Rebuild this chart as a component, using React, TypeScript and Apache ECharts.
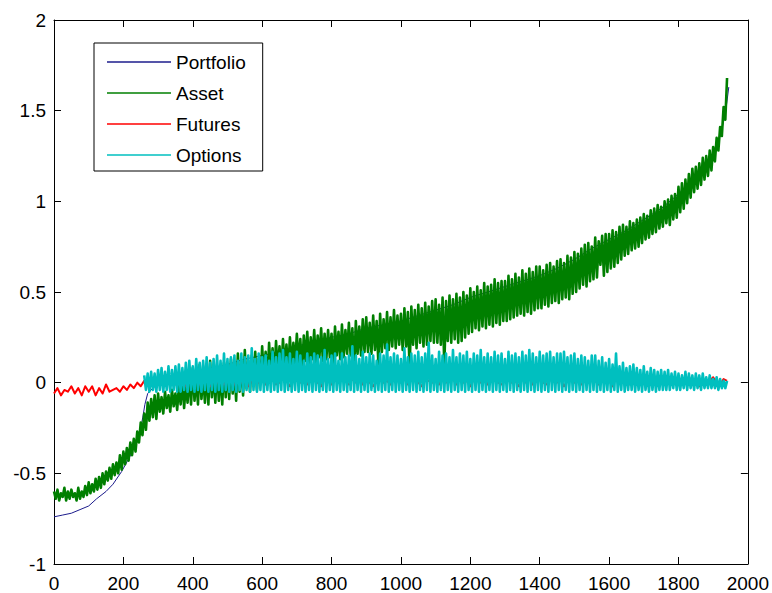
import React, { useEffect, useRef } from "react";
import * as echarts from "echarts";

// ---- data ----
const seriesNames = ["Portfolio", "Asset", "Futures", "Options"];
const seriesColors = ["#1c1c8c", "#007f00", "#ff0000", "#00bfbf"];

const xMin = 0;
const xMax = 2000;
const xInterval = 200;
const yMin = -1;
const yMax = 2;
const yInterval = 0.5;

// Portfolio: smooth-ish curve, explicit x positions
const portfolioX = [
  0, 25, 50, 75, 100, 123, 150, 170, 195, 218, 235, 247, 256, 262, 270, 285, 300, 350, 400, 450,
  500, 550, 600, 650, 700, 750, 800, 850, 900, 950, 1000, 1050, 1100, 1150, 1200, 1250, 1300,
  1350, 1400, 1450, 1500, 1550, 1600, 1650, 1700, 1750, 1800, 1850, 1880, 1900, 1920, 1935, 1945,
];
const portfolioY = [
  -0.74, -0.73, -0.72, -0.7, -0.68, -0.64, -0.6, -0.56, -0.49, -0.41, -0.34, -0.28, -0.19, -0.12,
  -0.06, -0.03, -0.01, 0.02, 0.05, 0.08, 0.1, 0.13, 0.15, 0.17, 0.2, 0.23, 0.25, 0.27, 0.3, 0.32,
  0.34, 0.37, 0.4, 0.43, 0.47, 0.5, 0.53, 0.56, 0.59, 0.63, 0.68, 0.74, 0.79, 0.84, 0.9, 0.96,
  1.04, 1.13, 1.2, 1.26, 1.36, 1.48, 1.63,
];

// Asset: x = ASSET_STEP * index, from 0 to 1940
const ASSET_STEP = 5;
const assetY = [
  -0.6, -0.64, -0.59, -0.65, -0.61, -0.63, -0.58, -0.65, -0.6, -0.64, -0.59, -0.63, -0.61, -0.65, -0.58, -0.64, -0.6, -0.63, -0.57, -0.62,
  -0.55, -0.61, -0.56, -0.6, -0.53, -0.59, -0.52, -0.58, -0.5, -0.56, -0.49, -0.54, -0.47, -0.53, -0.45, -0.51, -0.44, -0.5, -0.4, -0.48,
  -0.38, -0.45, -0.36, -0.43, -0.33, -0.4, -0.31, -0.38, -0.27, -0.33, -0.22, -0.29, -0.17, -0.26, -0.11, -0.21, -0.09, -0.19, -0.07, -0.2,
  -0.06, -0.16, -0.08, -0.17, -0.05, -0.14, -0.07, -0.16, -0.04, -0.13, -0.06, -0.15, -0.02, -0.12, 0.02, -0.14, -0.01, -0.11, 0.05, -0.12,
  0.08, -0.1, 0.03, -0.12, 0.1, -0.09, 0.04, -0.11, 0.07, -0.12, 0.12, -0.08, 0.05, -0.11, 0.09, -0.1, 0.06, -0.12, 0.11, -0.08,
  0.09, -0.09, 0.13, -0.06, 0.08, -0.1, 0.16, -0.05, 0.11, -0.07, 0.18, -0.03, 0.12, -0.05, 0.15, -0.02, 0.17, -0.04, 0.13, 0.0,
  0.2, 0.02, 0.17, -0.01, 0.22, 0.04, 0.19, 0.03, 0.23, 0.06, 0.2, 0.05, 0.24, 0.08, 0.21, 0.06, 0.25, 0.09, 0.22, 0.1,
  0.27, 0.11, 0.24, 0.06, 0.26, 0.12, 0.28, 0.1, 0.25, 0.13, 0.29, 0.11, 0.26, 0.14, 0.3, 0.12, 0.27, 0.13, 0.29, 0.14,
  0.27, 0.08, 0.31, 0.15, 0.28, 0.13, 0.32, 0.14, 0.29, 0.16, 0.33, 0.15, 0.3, 0.05, 0.34, 0.16, 0.31, 0.15, 0.35, 0.17,
  0.36, 0.17, 0.33, 0.16, 0.37, 0.18, 0.34, 0.1, 0.38, 0.17, 0.35, 0.19, 0.39, 0.18, 0.36, 0.2, 0.4, 0.19, 0.37, 0.21,
  0.38, 0.18, 0.41, 0.2, 0.39, 0.07, 0.42, 0.21, 0.4, 0.19, 0.43, 0.22, 0.41, 0.2, 0.44, 0.21, 0.42, 0.23, 0.45, 0.22,
  0.46, 0.22, 0.43, 0.21, 0.47, 0.09, 0.45, 0.23, 0.48, 0.22, 0.46, 0.24, 0.49, 0.22, 0.47, 0.23, 0.5, 0.25, 0.48, 0.27,
  0.52, 0.28, 0.5, 0.3, 0.53, 0.29, 0.51, 0.31, 0.55, 0.3, 0.53, 0.32, 0.54, 0.31, 0.57, 0.33, 0.55, 0.32, 0.56, 0.34,
  0.56, 0.34, 0.59, 0.35, 0.57, 0.36, 0.6, 0.37, 0.58, 0.38, 0.62, 0.37, 0.6, 0.39, 0.63, 0.38, 0.61, 0.4, 0.64, 0.41,
  0.64, 0.41, 0.62, 0.43, 0.65, 0.42, 0.66, 0.44, 0.64, 0.45, 0.67, 0.44, 0.68, 0.46, 0.66, 0.47, 0.7, 0.46, 0.69, 0.49,
  0.72, 0.5, 0.71, 0.52, 0.74, 0.54, 0.76, 0.53, 0.77, 0.56, 0.75, 0.57, 0.8, 0.58, 0.78, 0.65, 0.81, 0.59, 0.82, 0.61,
  0.82, 0.63, 0.84, 0.64, 0.83, 0.66, 0.86, 0.68, 0.87, 0.7, 0.86, 0.71, 0.89, 0.73, 0.88, 0.74, 0.9, 0.75, 0.91, 0.77,
  0.93, 0.79, 0.92, 0.8, 0.95, 0.82, 0.96, 0.83, 0.98, 0.85, 0.97, 0.86, 1.0, 0.88, 1.01, 0.87, 1.03, 0.9, 1.04, 0.91,
  1.08, 0.94, 1.1, 0.96, 1.12, 0.99, 1.15, 1.02, 1.18, 1.05, 1.19, 1.07, 1.21, 1.09, 1.24, 1.12, 1.25, 1.14, 1.28, 1.17,
  1.3, 1.22, 1.35, 1.28, 1.41, 1.36, 1.52, 1.45, 1.68,
];

// Futures: x = FUTURES_STEP * index, from 0 to 1940
const FUTURES_STEP = 10;
const futuresY = [
  -0.06, -0.03, -0.07, -0.04, -0.05, -0.02, -0.06, -0.03, -0.07, -0.02,
  -0.05, -0.02, -0.07, -0.03, -0.06, -0.01, -0.05, -0.04, -0.03, -0.05,
  -0.02, -0.04, -0.01, -0.03, 0.0, -0.02, 0.01, 0.0, 0.02, -0.01,
  0.01, -0.01, 0.02, 0.0, 0.03, -0.01, 0.01, 0.02, -0.02, 0.01,
  0.0, 0.03, -0.01, 0.02, 0.01, -0.02, 0.02, 0.0, 0.03, -0.01,
  0.02, 0.01, -0.01, 0.03, 0.0, 0.02, -0.02, 0.01, 0.02, 0.0,
  0.03, -0.01, 0.01, 0.02, -0.01, 0.0, 0.03, 0.01, -0.02, 0.02,
  0.01, 0.0, 0.02, -0.01, 0.03, 0.01, 0.0, -0.02, 0.02, 0.01,
  -0.01, 0.03, 0.0, 0.02, 0.01, -0.01, 0.02, 0.0, 0.03, -0.01,
  0.02, 0.0, -0.02, 0.01, 0.03, 0.0, 0.01, -0.01, 0.02, 0.01,
  0.0, 0.02, -0.01, 0.03, 0.01, 0.0, -0.02, 0.02, 0.01, 0.0,
  0.03, -0.01, 0.02, 0.0, 0.01, 0.02, -0.01, 0.03, 0.0, 0.01,
  -0.02, 0.02, 0.01, 0.0, 0.03, -0.01, 0.02, 0.01, 0.0, -0.01,
  0.02, 0.03, 0.0, 0.01, -0.02, 0.02, 0.0, 0.03, -0.01, 0.01,
  0.02, 0.0, -0.01, 0.03, 0.01, 0.0, 0.02, -0.02, 0.01, 0.03,
  0.0, 0.01, -0.01, 0.02, 0.0, 0.03, 0.01, -0.01, 0.02, 0.0,
  0.01, -0.02, 0.03, 0.0, 0.02, 0.01, -0.01, 0.0, 0.02, 0.01,
  0.0, 0.03, -0.01, 0.01, 0.02, 0.0, -0.01, 0.02, 0.01, 0.0,
  0.02, -0.01, 0.01, 0.03, 0.0, 0.01, -0.02, 0.02, 0.0, 0.01,
  0.03, 0.0, -0.01, 0.02, 0.01,
];

// Options: x = OPTIONS_START + OPTIONS_STEP * index, from 260 to 1940
const OPTIONS_START = 260;
const OPTIONS_STEP = 5;
const optionsY = [
  0.04, -0.04, 0.05, -0.05, 0.06, -0.04, 0.05, -0.05, 0.07, -0.04, 0.08, -0.05, 0.06, -0.04, 0.09, -0.05, 0.07, -0.04, 0.09, -0.05,
  0.1, -0.05, 0.08, -0.04, 0.11, -0.05, 0.12, -0.04, 0.09, -0.05, 0.13, -0.04, 0.11, -0.05, 0.12, -0.04, 0.14, -0.05, 0.11, -0.04,
  0.13, -0.05, 0.15, -0.04, 0.12, -0.05, 0.16, -0.04, 0.13, -0.05, 0.14, -0.04, 0.15, -0.05, 0.12, -0.04, 0.16, -0.05, 0.14, -0.04,
  0.15, -0.05, 0.19, -0.04, 0.13, -0.05, 0.16, -0.04, 0.14, -0.05, 0.15, -0.04, 0.12, -0.05, 0.17, -0.04, 0.14, -0.05, 0.16, -0.04,
  0.18, -0.05, 0.14, -0.04, 0.16, -0.05, 0.13, -0.04, 0.17, -0.05, 0.15, -0.04, 0.12, -0.05, 0.16, -0.04, 0.14, -0.05, 0.16, -0.04,
  0.15, -0.05, 0.14, -0.04, 0.18, -0.05, 0.13, -0.04, 0.15, -0.05, 0.16, -0.04, 0.12, -0.05, 0.16, -0.04, 0.14, -0.05, 0.15, -0.04,
  0.2, -0.05, 0.15, -0.04, 0.13, -0.05, 0.17, -0.04, 0.14, -0.05, 0.16, -0.04, 0.15, -0.05, 0.12, -0.04, 0.16, -0.05, 0.15, -0.04,
  0.21, -0.05, 0.14, -0.04, 0.16, -0.05, 0.15, -0.04, 0.13, -0.05, 0.19, -0.04, 0.14, -0.05, 0.16, -0.04, 0.15, -0.05, 0.17, -0.04,
  0.14, -0.05, 0.16, -0.04, 0.22, -0.05, 0.15, -0.04, 0.13, -0.05, 0.17, -0.04, 0.15, -0.05, 0.16, -0.04, 0.14, -0.05, 0.18, -0.04,
  0.14, -0.05, 0.16, -0.04, 0.15, -0.05, 0.17, -0.04, 0.13, -0.05, 0.16, -0.04, 0.15, -0.05, 0.18, -0.04, 0.14, -0.05, 0.16, -0.04,
  0.14, -0.05, 0.17, -0.04, 0.15, -0.05, 0.16, -0.04, 0.13, -0.05, 0.17, -0.04, 0.15, -0.05, 0.16, -0.04, 0.14, -0.05, 0.17, -0.04,
  0.15, -0.05, 0.18, -0.04, 0.16, -0.05, 0.14, -0.04, 0.17, -0.05, 0.15, -0.04, 0.16, -0.05, 0.17, -0.04, 0.14, -0.05, 0.16, -0.04,
  0.16, -0.05, 0.17, -0.04, 0.14, -0.05, 0.15, -0.04, 0.16, -0.05, 0.13, -0.04, 0.15, -0.05, 0.14, -0.04, 0.12, -0.05, 0.15, -0.04,
  0.15, -0.05, 0.12, -0.04, 0.14, -0.05, 0.11, -0.04, 0.13, -0.05, 0.1, -0.04, 0.16, -0.05, 0.09, -0.04, 0.11, -0.05, 0.08, -0.04,
  0.09, -0.04, 0.1, -0.05, 0.08, -0.04, 0.07, -0.05, 0.09, -0.04, 0.06, -0.05, 0.08, -0.04, 0.07, -0.05, 0.06, -0.04, 0.07, -0.04,
  0.06, -0.04, 0.07, -0.04, 0.05, -0.03, 0.06, -0.04, 0.05, -0.04, 0.04, -0.03, 0.06, -0.04, 0.05, -0.03, 0.04, -0.04, 0.05, -0.03,
  0.04, -0.04, 0.05, -0.03, 0.03, -0.03, 0.04, -0.03, 0.02, -0.03, 0.03, -0.04, 0.02, -0.03, 0.01, -0.03, 0.01,
];

const FONT = "'Liberation Sans', Arial, Helvetica, sans-serif";

export default function App() {
  const ref = useRef<HTMLDivElement>(null);

  useEffect(() => {
    document.body.style.margin = "0";
    if (!ref.current) return;
    const chart = echarts.init(ref.current, null, { renderer: "svg" });

    const axisLine = { show: true, onZero: false, lineStyle: { color: "#000", width: 1 } };
    const axisTick = { show: true, inside: true, length: 7, lineStyle: { color: "#000", width: 1 } };
    const labelStyle = { color: "#000", fontSize: 19, fontFamily: FONT };

    const portfolioData = portfolioX.map((x, i) => [x, portfolioY[i]]);
    const assetData = assetY.map((v, i) => [i * ASSET_STEP, v]);
    const futuresData = futuresY.map((v, i) => [i * FUTURES_STEP, v]);
    const optionsData = optionsY.map((v, i) => [OPTIONS_START + i * OPTIONS_STEP, v]);

    const mk = (name: string, idx: number, data: number[][], width: number) => ({
      name,
      type: "line",
      data,
      symbol: "none",
      showSymbol: false,
      xAxisIndex: 0,
      yAxisIndex: 0,
      color: seriesColors[idx],
      itemStyle: { color: seriesColors[idx] },
      lineStyle: { color: seriesColors[idx], width, join: "round", cap: "butt" },
      emphasis: { disabled: true },
    });

    chart.setOption({
      animation: false,
      backgroundColor: "#fff",
      grid: { left: 54, right: 21, top: 20, bottom: 25, containLabel: false },
      legend: {
        data: seriesNames,
        orient: "vertical",
        left: 94,
        top: 43,
        icon: "rect",
        itemWidth: 64,
        itemHeight: 1.5,
        itemGap: 11,
        padding: [9, 17, 6, 13],
        borderColor: "#000",
        borderWidth: 1,
        borderRadius: 0,
        backgroundColor: "#fff",
        selectedMode: false,
        textStyle: { color: "#000", fontSize: 19, fontFamily: FONT, lineHeight: 20 },
      },
      xAxis: [
        {
          type: "value",
          min: xMin,
          max: xMax,
          interval: xInterval,
          position: "bottom",
          axisLine,
          axisTick,
          axisLabel: { ...labelStyle, margin: 10, formatter: (v: number) => String(v) },
          splitLine: { show: false },
        },
        {
          type: "value",
          min: xMin,
          max: xMax,
          interval: xInterval,
          position: "top",
          axisLine,
          axisTick,
          axisLabel: { show: false },
          splitLine: { show: false },
        },
      ],
      yAxis: [
        {
          type: "value",
          min: yMin,
          max: yMax,
          interval: yInterval,
          position: "left",
          axisLine,
          axisTick,
          axisLabel: { ...labelStyle, margin: 8, formatter: (v: number) => String(v) },
          splitLine: { show: false },
        },
        {
          type: "value",
          min: yMin,
          max: yMax,
          interval: yInterval,
          position: "right",
          axisLine,
          axisTick,
          axisLabel: { show: false },
          splitLine: { show: false },
        },
      ],
      series: [
        mk(seriesNames[0], 0, portfolioData, 1),
        mk(seriesNames[1], 1, assetData, 2.6),
        mk(seriesNames[2], 2, futuresData, 2),
        mk(seriesNames[3], 3, optionsData, 2.6),
      ],
    });

    return () => chart.dispose();
  }, []);

  return <div ref={ref} style={{ width: 772, height: 593 }} />;
}
